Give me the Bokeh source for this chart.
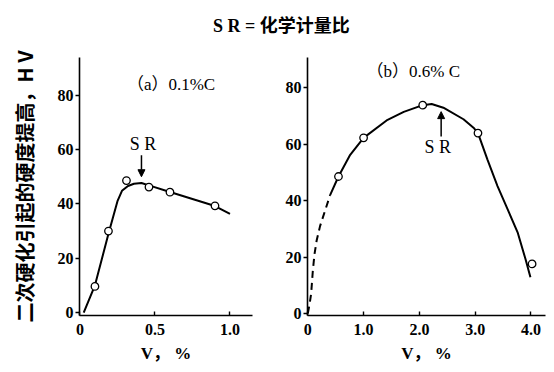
from bokeh.plotting import figure
from bokeh.layouts import row, column
from bokeh.models import Label, Arrow, NormalHead, FixedTicker, Range1d, Div
from bokeh.embed import file_html
from bokeh.resources import INLINE

# ---------------- data ----------------
# (a) 0.1% C
a_pts_v = [0.10, 0.19, 0.31, 0.46, 0.60, 0.90]
a_pts_hv = [9.6, 30.0, 48.6, 46.2, 44.3, 39.3]
a_curve_v = [0.025, 0.10, 0.19, 0.25, 0.28, 0.32, 0.36, 0.41, 0.46, 0.60, 0.75, 0.90, 1.00]
a_curve_hv = [0.0, 10.0, 29.0, 41.0, 44.8, 46.6, 47.4, 47.7, 46.8, 44.4, 41.8, 39.2, 36.3]
a_sr = 0.41
a_sr_arrow_hv = [57.9, 50.0]

# (b) 0.6% C
b_pts_v = [0.55, 1.00, 2.06, 3.05, 4.02]
b_pts_hv = [48.6, 62.3, 73.9, 64.0, 17.6]
b_curve_v = [0.40, 0.55, 0.76, 1.00, 1.43, 1.72, 2.06, 2.22, 2.43, 2.79, 2.97, 3.05,
             3.22, 3.40, 3.58, 3.76, 3.90, 3.99]
b_curve_hv = [42.0, 48.6, 56.3, 62.3, 68.7, 71.5, 73.9, 74.3, 73.0, 68.9, 65.9, 64.0,
              54.6, 45.2, 37.0, 28.8, 19.4, 12.9]
b_dash_v = [0.0, 0.03, 0.06, 0.09, 0.12, 0.16, 0.22, 0.31, 0.40]
b_dash_hv = [0.0, 3.0, 7.0, 15.0, 21.0, 26.0, 31.0, 36.5, 42.0]
b_sr = 2.39
b_sr_arrow_hv = [62.8, 71.6]

a_xticks = [0, 0.5, 1.0]
a_xlabels = ["0", "0.5", "1.0"]
b_xticks = [0, 1.0, 2.0, 3.0, 4.0]
b_xlabels = ["0", "1.0", "2.0", "3.0", "4.0"]
yticks = [0, 20, 40, 60, 80]
ylabels = ["0", "20", "40", "60", "80"]

title_text = "S R = 化学计量比"
a_title = "（a）0.1%C"
b_title = "（b）0.6% C"
y_label = "二次硬化引起的硬度提高，H V"
x_label = "V， %"
sr_text = "S R"

SERIF = "'Liberation Serif', 'Noto Sans CJK SC'"
CJK = "'Noto Sans CJK SC'"
D = 38          # height of the title strip
H = 370 - D     # height of the two panels


def style(p, xticks, xlabels):
    p.xgrid.visible = False
    p.ygrid.visible = False
    p.outline_line_color = None
    for ax in (p.xaxis[0], p.yaxis[0]):
        ax.axis_line_color = "black"
        ax.axis_line_width = 1.6
        ax.major_tick_line_color = "black"
        ax.major_tick_line_width = 1.4
        ax.minor_tick_line_color = None
        ax.major_label_text_font = SERIF
        ax.major_label_text_font_size = "16px"
        ax.major_label_text_font_style = "bold"
        ax.major_label_text_color = "black"
    p.xaxis.ticker = FixedTicker(ticks=xticks)
    p.xaxis.major_label_overrides = {t: l for t, l in zip(xticks, xlabels)}
    p.xaxis.major_tick_in = 4
    p.xaxis.major_tick_out = 0
    p.xaxis.major_label_standoff = 8
    p.yaxis.ticker = FixedTicker(ticks=yticks)
    p.yaxis.major_label_overrides = {t: l for t, l in zip(yticks, ylabels)}
    p.yaxis.major_tick_in = 0
    p.yaxis.major_tick_out = 4
    p.yaxis.major_label_standoff = 2
    p.xaxis.axis_label = x_label
    p.xaxis.axis_label_text_font = SERIF
    p.xaxis.axis_label_text_font_size = "17px"
    p.xaxis.axis_label_text_font_style = "bold"
    p.xaxis.axis_label_text_color = "black"
    p.xaxis.axis_label_standoff = 6


# ---------------- title strip ----------------
title_div = Div(
    text=('<div style="padding-left:213px;padding-top:11px;white-space:nowrap;color:black;'
          "font:bold 18px 'Liberation Serif','Noto Sans CJK SC';\">" + title_text + "</div>"),
    width=552, height=D, margin=0)

# ---------------- left panel ----------------
WL = 270
pa = figure(width=WL, height=H, output_backend="svg", toolbar_location=None,
            x_range=Range1d(-0.003, 1.15), y_range=Range1d(-1.1, 93.9),
            min_border_left=79, min_border_right=WL - 79 - 173,
            min_border_top=49 - D, min_border_bottom=H - (49 - D) - 266, margin=0)
style(pa, a_xticks, a_xlabels)
pa.yaxis.axis_label = y_label
pa.yaxis.axis_label_text_font = CJK
pa.yaxis.axis_label_text_font_size = "20px"
pa.yaxis.axis_label_text_font_style = "bold"
pa.yaxis.axis_label_text_color = "black"
pa.yaxis.axis_label_standoff = 16

pa.line(a_curve_v, a_curve_hv, line_color="black", line_width=2)
pa.scatter(a_pts_v, a_pts_hv, size=7.5, fill_color="white", line_color="black", line_width=1.3)
pa.add_layout(Arrow(end=NormalHead(size=7, fill_color="black", line_color="black"),
                    x_start=a_sr, y_start=a_sr_arrow_hv[0], x_end=a_sr, y_end=a_sr_arrow_hv[1],
                    line_color="black", line_width=1.5))
pa.add_layout(Label(x=a_sr + 0.01, y=62, text=sr_text, text_align="center", text_baseline="middle",
                    text_font=SERIF, text_font_size="18px", text_color="black"))
pa.add_layout(Label(x=0.607, y=83.8, text=a_title, text_align="center", text_baseline="middle",
                    text_font=SERIF, text_font_size="17px", text_color="black"))

# ---------------- right panel ----------------
WR = 282
pb = figure(width=WR, height=H, output_backend="svg", toolbar_location=None,
            x_range=Range1d(-0.005, 4.26), y_range=Range1d(-0.7, 90.8),
            min_border_left=37, min_border_right=WR - 37 - 238,
            min_border_top=57 - D, min_border_bottom=H - (57 - D) - 260, margin=0)
style(pb, b_xticks, b_xlabels)

pb.line(b_curve_v, b_curve_hv, line_color="black", line_width=2)
pb.line(b_dash_v, b_dash_hv, line_color="black", line_width=2, line_dash="7 5")
pb.scatter(b_pts_v, b_pts_hv, size=7.5, fill_color="white", line_color="black", line_width=1.3)
pb.add_layout(Arrow(end=NormalHead(size=7, fill_color="black", line_color="black"),
                    x_start=b_sr, y_start=b_sr_arrow_hv[0], x_end=b_sr, y_end=b_sr_arrow_hv[1],
                    line_color="black", line_width=1.5))
pb.add_layout(Label(x=b_sr - 0.06, y=59, text=sr_text, text_align="center", text_baseline="middle",
                    text_font=SERIF, text_font_size="18px", text_color="black"))
pb.add_layout(Label(x=1.89, y=86, text=b_title, text_align="center", text_baseline="middle",
                    text_font=SERIF, text_font_size="17px", text_color="black"))

layout = column(title_div, row(pa, pb, margin=0), margin=0)
open("out.html", "w").write(file_html(layout, INLINE))
